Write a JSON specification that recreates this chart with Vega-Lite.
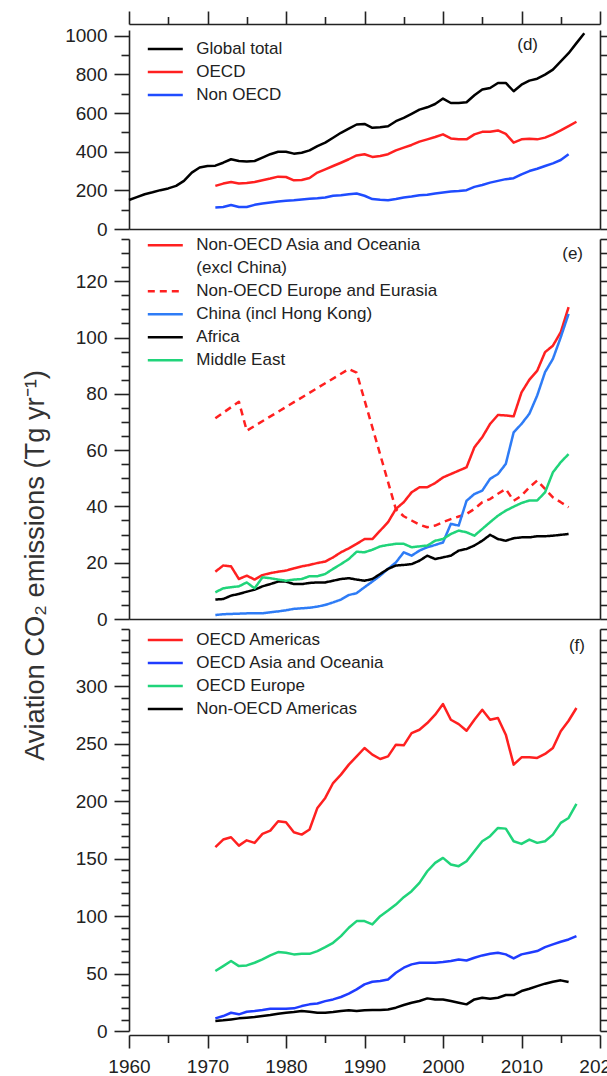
{
"$schema": "https://vega.github.io/schema/vega-lite/v6.json",
"padding": {"left": 21, "top": 10, "right": 0, "bottom": 0},
"autosize": {"type": "pad"},
"background": "white",
"spacing": 10,
"bounds": "flush",
"resolve": {"scale": {"color": "independent", "strokeDash": "independent", "y": "independent"}, "legend": {"color": "independent", "strokeDash": "independent"}},
"config": {
  "font": "Liberation Sans",
  "view": {"stroke": null},
  "axis": {"grid": false, "labelFont": "Liberation Sans", "titleFont": "Liberation Sans", "domainColor": "#222222", "tickColor": "#222222", "labelColor": "#222222", "titleColor": "#333333", "domainWidth": 1.6, "tickWidth": 1.6, "labelFontSize": 19, "format": "d", "labelFlush": false, "labelOverlap": false},
  "legend": {"orient": "none", "symbolType": "stroke", "symbolSize": 1225, "symbolStrokeWidth": 2.5, "labelFontSize": 17, "labelFont": "Liberation Sans", "labelColor": "#222222", "labelOffset": 12, "rowPadding": 0, "clipHeight": 22.5, "padding": 0, "title": null, "labelLimit": 400},
  "title": {"font": "Liberation Sans", "fontSize": 17, "fontWeight": "normal", "color": "#222222", "anchor": "end", "frame": "group", "orient": "top", "baseline": "alphabetic"}
},
"datasets": {
"d": [
{"series":"Global total","year":1960,"value":150},{"series":"Global total","year":1961,"value":165},{"series":"Global total","year":1962,"value":180},{"series":"Global total","year":1963,"value":190},{"series":"Global total","year":1964,"value":201},{"series":"Global total","year":1965,"value":210},{"series":"Global total","year":1966,"value":223},{"series":"Global total","year":1967,"value":249},{"series":"Global total","year":1968,"value":292},{"series":"Global total","year":1969,"value":318},{"series":"Global total","year":1970,"value":326},{"series":"Global total","year":1971,"value":328},{"series":"Global total","year":1972,"value":343},{"series":"Global total","year":1973,"value":361},{"series":"Global total","year":1974,"value":352},{"series":"Global total","year":1975,"value":350},{"series":"Global total","year":1976,"value":352},{"series":"Global total","year":1977,"value":369},{"series":"Global total","year":1978,"value":387},{"series":"Global total","year":1979,"value":400},{"series":"Global total","year":1980,"value":400},{"series":"Global total","year":1981,"value":390},{"series":"Global total","year":1982,"value":395},{"series":"Global total","year":1983,"value":407},{"series":"Global total","year":1984,"value":429},{"series":"Global total","year":1985,"value":447},{"series":"Global total","year":1986,"value":472},{"series":"Global total","year":1987,"value":498},{"series":"Global total","year":1988,"value":519},{"series":"Global total","year":1989,"value":541},{"series":"Global total","year":1990,"value":544},{"series":"Global total","year":1991,"value":524},{"series":"Global total","year":1992,"value":527},{"series":"Global total","year":1993,"value":532},{"series":"Global total","year":1994,"value":558},{"series":"Global total","year":1995,"value":575},{"series":"Global total","year":1996,"value":596},{"series":"Global total","year":1997,"value":618},{"series":"Global total","year":1998,"value":630},{"series":"Global total","year":1999,"value":647},{"series":"Global total","year":2000,"value":675},{"series":"Global total","year":2001,"value":652},{"series":"Global total","year":2002,"value":652},{"series":"Global total","year":2003,"value":656},{"series":"Global total","year":2004,"value":692},{"series":"Global total","year":2005,"value":722},{"series":"Global total","year":2006,"value":730},{"series":"Global total","year":2007,"value":756},{"series":"Global total","year":2008,"value":756},{"series":"Global total","year":2009,"value":713},{"series":"Global total","year":2010,"value":747},{"series":"Global total","year":2011,"value":768},{"series":"Global total","year":2012,"value":778},{"series":"Global total","year":2013,"value":799},{"series":"Global total","year":2014,"value":825},{"series":"Global total","year":2015,"value":867},{"series":"Global total","year":2016,"value":910},{"series":"Global total","year":2017,"value":962},{"series":"Global total","year":2018,"value":1013},
{"series":"OECD","year":1971,"value":223},{"series":"OECD","year":1972,"value":235},{"series":"OECD","year":1973,"value":243},{"series":"OECD","year":1974,"value":235},{"series":"OECD","year":1975,"value":238},{"series":"OECD","year":1976,"value":243},{"series":"OECD","year":1977,"value":252},{"series":"OECD","year":1978,"value":261},{"series":"OECD","year":1979,"value":271},{"series":"OECD","year":1980,"value":269},{"series":"OECD","year":1981,"value":252},{"series":"OECD","year":1982,"value":254},{"series":"OECD","year":1983,"value":264},{"series":"OECD","year":1984,"value":292},{"series":"OECD","year":1985,"value":309},{"series":"OECD","year":1986,"value":326},{"series":"OECD","year":1987,"value":343},{"series":"OECD","year":1988,"value":361},{"series":"OECD","year":1989,"value":381},{"series":"OECD","year":1990,"value":387},{"series":"OECD","year":1991,"value":373},{"series":"OECD","year":1992,"value":378},{"series":"OECD","year":1993,"value":387},{"series":"OECD","year":1994,"value":407},{"series":"OECD","year":1995,"value":421},{"series":"OECD","year":1996,"value":435},{"series":"OECD","year":1997,"value":452},{"series":"OECD","year":1998,"value":464},{"series":"OECD","year":1999,"value":476},{"series":"OECD","year":2000,"value":490},{"series":"OECD","year":2001,"value":469},{"series":"OECD","year":2002,"value":464},{"series":"OECD","year":2003,"value":464},{"series":"OECD","year":2004,"value":490},{"series":"OECD","year":2005,"value":503},{"series":"OECD","year":2006,"value":503},{"series":"OECD","year":2007,"value":510},{"series":"OECD","year":2008,"value":492},{"series":"OECD","year":2009,"value":447},{"series":"OECD","year":2010,"value":464},{"series":"OECD","year":2011,"value":467},{"series":"OECD","year":2012,"value":464},{"series":"OECD","year":2013,"value":473},{"series":"OECD","year":2014,"value":490},{"series":"OECD","year":2015,"value":510},{"series":"OECD","year":2016,"value":532},{"series":"OECD","year":2017,"value":555},
{"series":"Non OECD","year":1971,"value":111},{"series":"Non OECD","year":1972,"value":114},{"series":"Non OECD","year":1973,"value":124},{"series":"Non OECD","year":1974,"value":114},{"series":"Non OECD","year":1975,"value":114},{"series":"Non OECD","year":1976,"value":125},{"series":"Non OECD","year":1977,"value":132},{"series":"Non OECD","year":1978,"value":137},{"series":"Non OECD","year":1979,"value":142},{"series":"Non OECD","year":1980,"value":146},{"series":"Non OECD","year":1981,"value":149},{"series":"Non OECD","year":1982,"value":153},{"series":"Non OECD","year":1983,"value":156},{"series":"Non OECD","year":1984,"value":159},{"series":"Non OECD","year":1985,"value":163},{"series":"Non OECD","year":1986,"value":172},{"series":"Non OECD","year":1987,"value":175},{"series":"Non OECD","year":1988,"value":180},{"series":"Non OECD","year":1989,"value":184},{"series":"Non OECD","year":1990,"value":172},{"series":"Non OECD","year":1991,"value":155},{"series":"Non OECD","year":1992,"value":151},{"series":"Non OECD","year":1993,"value":149},{"series":"Non OECD","year":1994,"value":155},{"series":"Non OECD","year":1995,"value":163},{"series":"Non OECD","year":1996,"value":168},{"series":"Non OECD","year":1997,"value":175},{"series":"Non OECD","year":1998,"value":177},{"series":"Non OECD","year":1999,"value":184},{"series":"Non OECD","year":2000,"value":189},{"series":"Non OECD","year":2001,"value":194},{"series":"Non OECD","year":2002,"value":197},{"series":"Non OECD","year":2003,"value":201},{"series":"Non OECD","year":2004,"value":218},{"series":"Non OECD","year":2005,"value":228},{"series":"Non OECD","year":2006,"value":240},{"series":"Non OECD","year":2007,"value":249},{"series":"Non OECD","year":2008,"value":258},{"series":"Non OECD","year":2009,"value":263},{"series":"Non OECD","year":2010,"value":283},{"series":"Non OECD","year":2011,"value":300},{"series":"Non OECD","year":2012,"value":312},{"series":"Non OECD","year":2013,"value":326},{"series":"Non OECD","year":2014,"value":340},{"series":"Non OECD","year":2015,"value":357},{"series":"Non OECD","year":2016,"value":387}
],
"e": [
{"series":"Non-OECD Asia and Oceania","year":1971,"value":16.8},{"series":"Non-OECD Asia and Oceania","year":1972,"value":19},{"series":"Non-OECD Asia and Oceania","year":1973,"value":18.7},{"series":"Non-OECD Asia and Oceania","year":1974,"value":14.2},{"series":"Non-OECD Asia and Oceania","year":1975,"value":15.4},{"series":"Non-OECD Asia and Oceania","year":1976,"value":14},{"series":"Non-OECD Asia and Oceania","year":1977,"value":15.6},{"series":"Non-OECD Asia and Oceania","year":1978,"value":16.3},{"series":"Non-OECD Asia and Oceania","year":1979,"value":16.8},{"series":"Non-OECD Asia and Oceania","year":1980,"value":17.2},{"series":"Non-OECD Asia and Oceania","year":1981,"value":18},{"series":"Non-OECD Asia and Oceania","year":1982,"value":18.7},{"series":"Non-OECD Asia and Oceania","year":1983,"value":19.2},{"series":"Non-OECD Asia and Oceania","year":1984,"value":19.9},{"series":"Non-OECD Asia and Oceania","year":1985,"value":20.4},{"series":"Non-OECD Asia and Oceania","year":1986,"value":21.9},{"series":"Non-OECD Asia and Oceania","year":1987,"value":23.7},{"series":"Non-OECD Asia and Oceania","year":1988,"value":25.1},{"series":"Non-OECD Asia and Oceania","year":1989,"value":26.7},{"series":"Non-OECD Asia and Oceania","year":1990,"value":28.4},{"series":"Non-OECD Asia and Oceania","year":1991,"value":28.4},{"series":"Non-OECD Asia and Oceania","year":1992,"value":31.4},{"series":"Non-OECD Asia and Oceania","year":1993,"value":34.4},{"series":"Non-OECD Asia and Oceania","year":1994,"value":39.1},{"series":"Non-OECD Asia and Oceania","year":1995,"value":41.5},{"series":"Non-OECD Asia and Oceania","year":1996,"value":45},{"series":"Non-OECD Asia and Oceania","year":1997,"value":46.8},{"series":"Non-OECD Asia and Oceania","year":1998,"value":46.8},{"series":"Non-OECD Asia and Oceania","year":1999,"value":48.3},{"series":"Non-OECD Asia and Oceania","year":2000,"value":50.3},{"series":"Non-OECD Asia and Oceania","year":2001,"value":51.5},{"series":"Non-OECD Asia and Oceania","year":2002,"value":52.7},{"series":"Non-OECD Asia and Oceania","year":2003,"value":53.9},{"series":"Non-OECD Asia and Oceania","year":2004,"value":61},{"series":"Non-OECD Asia and Oceania","year":2005,"value":64.6},{"series":"Non-OECD Asia and Oceania","year":2006,"value":69.3},{"series":"Non-OECD Asia and Oceania","year":2007,"value":72.5},{"series":"Non-OECD Asia and Oceania","year":2008,"value":72.3},{"series":"Non-OECD Asia and Oceania","year":2009,"value":72},{"series":"Non-OECD Asia and Oceania","year":2010,"value":80.5},{"series":"Non-OECD Asia and Oceania","year":2011,"value":85},{"series":"Non-OECD Asia and Oceania","year":2012,"value":88.2},{"series":"Non-OECD Asia and Oceania","year":2013,"value":94.8},{"series":"Non-OECD Asia and Oceania","year":2014,"value":97.1},{"series":"Non-OECD Asia and Oceania","year":2015,"value":101.9},{"series":"Non-OECD Asia and Oceania","year":2016,"value":110.8},
{"series":"Non-OECD Europe and Eurasia","year":1971,"value":71.3},{"series":"Non-OECD Europe and Eurasia","year":1974,"value":77.2},{"series":"Non-OECD Europe and Eurasia","year":1975,"value":66.9},{"series":"Non-OECD Europe and Eurasia","year":1988,"value":88.8},{"series":"Non-OECD Europe and Eurasia","year":1989,"value":87.5},{"series":"Non-OECD Europe and Eurasia","year":1994,"value":39},{"series":"Non-OECD Europe and Eurasia","year":1995,"value":36.5},{"series":"Non-OECD Europe and Eurasia","year":1996,"value":35},{"series":"Non-OECD Europe and Eurasia","year":1997,"value":33.5},{"series":"Non-OECD Europe and Eurasia","year":1998,"value":32.6},{"series":"Non-OECD Europe and Eurasia","year":1999,"value":33.2},{"series":"Non-OECD Europe and Eurasia","year":2000,"value":34.4},{"series":"Non-OECD Europe and Eurasia","year":2001,"value":35.5},{"series":"Non-OECD Europe and Eurasia","year":2002,"value":36.4},{"series":"Non-OECD Europe and Eurasia","year":2003,"value":37.3},{"series":"Non-OECD Europe and Eurasia","year":2004,"value":39.1},{"series":"Non-OECD Europe and Eurasia","year":2005,"value":41.5},{"series":"Non-OECD Europe and Eurasia","year":2006,"value":42.6},{"series":"Non-OECD Europe and Eurasia","year":2007,"value":44.5},{"series":"Non-OECD Europe and Eurasia","year":2008,"value":46.2},{"series":"Non-OECD Europe and Eurasia","year":2009,"value":42},{"series":"Non-OECD Europe and Eurasia","year":2010,"value":43.8},{"series":"Non-OECD Europe and Eurasia","year":2011,"value":46.8},{"series":"Non-OECD Europe and Eurasia","year":2012,"value":49.2},{"series":"Non-OECD Europe and Eurasia","year":2013,"value":46.2},{"series":"Non-OECD Europe and Eurasia","year":2014,"value":43.2},{"series":"Non-OECD Europe and Eurasia","year":2015,"value":41.5},{"series":"Non-OECD Europe and Eurasia","year":2016,"value":39.7},
{"series":"China (incl Hong Kong)","year":1971,"value":1.4},{"series":"China (incl Hong Kong)","year":1972,"value":1.7},{"series":"China (incl Hong Kong)","year":1973,"value":1.8},{"series":"China (incl Hong Kong)","year":1974,"value":1.9},{"series":"China (incl Hong Kong)","year":1975,"value":2},{"series":"China (incl Hong Kong)","year":1976,"value":2},{"series":"China (incl Hong Kong)","year":1977,"value":2},{"series":"China (incl Hong Kong)","year":1978,"value":2.4},{"series":"China (incl Hong Kong)","year":1979,"value":2.7},{"series":"China (incl Hong Kong)","year":1980,"value":3.1},{"series":"China (incl Hong Kong)","year":1981,"value":3.6},{"series":"China (incl Hong Kong)","year":1982,"value":3.8},{"series":"China (incl Hong Kong)","year":1983,"value":4},{"series":"China (incl Hong Kong)","year":1984,"value":4.4},{"series":"China (incl Hong Kong)","year":1985,"value":5},{"series":"China (incl Hong Kong)","year":1986,"value":5.9},{"series":"China (incl Hong Kong)","year":1987,"value":6.9},{"series":"China (incl Hong Kong)","year":1988,"value":8.5},{"series":"China (incl Hong Kong)","year":1989,"value":9.2},{"series":"China (incl Hong Kong)","year":1990,"value":11.3},{"series":"China (incl Hong Kong)","year":1991,"value":13.3},{"series":"China (incl Hong Kong)","year":1992,"value":15.4},{"series":"China (incl Hong Kong)","year":1993,"value":17.8},{"series":"China (incl Hong Kong)","year":1994,"value":20.1},{"series":"China (incl Hong Kong)","year":1995,"value":23.7},{"series":"China (incl Hong Kong)","year":1996,"value":22.5},{"series":"China (incl Hong Kong)","year":1997,"value":24.3},{"series":"China (incl Hong Kong)","year":1998,"value":25.5},{"series":"China (incl Hong Kong)","year":1999,"value":26.3},{"series":"China (incl Hong Kong)","year":2000,"value":27.2},{"series":"China (incl Hong Kong)","year":2001,"value":33.8},{"series":"China (incl Hong Kong)","year":2002,"value":33.2},{"series":"China (incl Hong Kong)","year":2003,"value":42},{"series":"China (incl Hong Kong)","year":2004,"value":44.4},{"series":"China (incl Hong Kong)","year":2005,"value":45.6},{"series":"China (incl Hong Kong)","year":2006,"value":49.8},{"series":"China (incl Hong Kong)","year":2007,"value":51.5},{"series":"China (incl Hong Kong)","year":2008,"value":55.1},{"series":"China (incl Hong Kong)","year":2009,"value":66.3},{"series":"China (incl Hong Kong)","year":2010,"value":69.3},{"series":"China (incl Hong Kong)","year":2011,"value":72.9},{"series":"China (incl Hong Kong)","year":2012,"value":79.4},{"series":"China (incl Hong Kong)","year":2013,"value":87.7},{"series":"China (incl Hong Kong)","year":2014,"value":92.4},{"series":"China (incl Hong Kong)","year":2015,"value":100.1},{"series":"China (incl Hong Kong)","year":2016,"value":108.4},
{"series":"Africa","year":1971,"value":6.9},{"series":"Africa","year":1972,"value":7.1},{"series":"Africa","year":1973,"value":8.3},{"series":"Africa","year":1974,"value":8.9},{"series":"Africa","year":1975,"value":9.7},{"series":"Africa","year":1976,"value":10.4},{"series":"Africa","year":1977,"value":11.6},{"series":"Africa","year":1978,"value":12.4},{"series":"Africa","year":1979,"value":13.3},{"series":"Africa","year":1980,"value":13.3},{"series":"Africa","year":1981,"value":12.4},{"series":"Africa","year":1982,"value":12.4},{"series":"Africa","year":1983,"value":12.8},{"series":"Africa","year":1984,"value":13},{"series":"Africa","year":1985,"value":13},{"series":"Africa","year":1986,"value":13.6},{"series":"Africa","year":1987,"value":14.2},{"series":"Africa","year":1988,"value":14.5},{"series":"Africa","year":1989,"value":14},{"series":"Africa","year":1990,"value":13.6},{"series":"Africa","year":1991,"value":14.2},{"series":"Africa","year":1992,"value":16},{"series":"Africa","year":1993,"value":17.8},{"series":"Africa","year":1994,"value":19},{"series":"Africa","year":1995,"value":19.2},{"series":"Africa","year":1996,"value":19.5},{"series":"Africa","year":1997,"value":20.7},{"series":"Africa","year":1998,"value":22.5},{"series":"Africa","year":1999,"value":21.3},{"series":"Africa","year":2000,"value":21.9},{"series":"Africa","year":2001,"value":22.5},{"series":"Africa","year":2002,"value":24.3},{"series":"Africa","year":2003,"value":24.9},{"series":"Africa","year":2004,"value":26.1},{"series":"Africa","year":2005,"value":27.8},{"series":"Africa","year":2006,"value":29.9},{"series":"Africa","year":2007,"value":28.4},{"series":"Africa","year":2008,"value":27.8},{"series":"Africa","year":2009,"value":28.7},{"series":"Africa","year":2010,"value":29},{"series":"Africa","year":2011,"value":29},{"series":"Africa","year":2012,"value":29.4},{"series":"Africa","year":2013,"value":29.4},{"series":"Africa","year":2014,"value":29.6},{"series":"Africa","year":2015,"value":29.9},{"series":"Africa","year":2016,"value":30.2},
{"series":"Middle East","year":1971,"value":9.5},{"series":"Middle East","year":1972,"value":10.9},{"series":"Middle East","year":1973,"value":11.3},{"series":"Middle East","year":1974,"value":11.6},{"series":"Middle East","year":1975,"value":13},{"series":"Middle East","year":1976,"value":10.9},{"series":"Middle East","year":1977,"value":14.8},{"series":"Middle East","year":1978,"value":14.5},{"series":"Middle East","year":1979,"value":14},{"series":"Middle East","year":1980,"value":13.6},{"series":"Middle East","year":1981,"value":14},{"series":"Middle East","year":1982,"value":14.2},{"series":"Middle East","year":1983,"value":15.2},{"series":"Middle East","year":1984,"value":15.2},{"series":"Middle East","year":1985,"value":16},{"series":"Middle East","year":1986,"value":17.8},{"series":"Middle East","year":1987,"value":19.5},{"series":"Middle East","year":1988,"value":21.3},{"series":"Middle East","year":1989,"value":23.9},{"series":"Middle East","year":1990,"value":23.7},{"series":"Middle East","year":1991,"value":24.6},{"series":"Middle East","year":1992,"value":25.8},{"series":"Middle East","year":1993,"value":26.3},{"series":"Middle East","year":1994,"value":26.7},{"series":"Middle East","year":1995,"value":26.7},{"series":"Middle East","year":1996,"value":25.5},{"series":"Middle East","year":1997,"value":25.8},{"series":"Middle East","year":1998,"value":26.1},{"series":"Middle East","year":1999,"value":27.8},{"series":"Middle East","year":2000,"value":28.4},{"series":"Middle East","year":2001,"value":30.2},{"series":"Middle East","year":2002,"value":31.4},{"series":"Middle East","year":2003,"value":30.8},{"series":"Middle East","year":2004,"value":29.6},{"series":"Middle East","year":2005,"value":32},{"series":"Middle East","year":2006,"value":34.4},{"series":"Middle East","year":2007,"value":36.7},{"series":"Middle East","year":2008,"value":38.5},{"series":"Middle East","year":2009,"value":39.9},{"series":"Middle East","year":2010,"value":41.2},{"series":"Middle East","year":2011,"value":42.1},{"series":"Middle East","year":2012,"value":42.1},{"series":"Middle East","year":2013,"value":45},{"series":"Middle East","year":2014,"value":52.1},{"series":"Middle East","year":2015,"value":55.7},{"series":"Middle East","year":2016,"value":58.6}
],
"f": [
{"series":"OECD Americas","year":1971,"value":160},{"series":"OECD Americas","year":1972,"value":166.7},{"series":"OECD Americas","year":1973,"value":168.7},{"series":"OECD Americas","year":1974,"value":161.4},{"series":"OECD Americas","year":1975,"value":166},{"series":"OECD Americas","year":1976,"value":163.8},{"series":"OECD Americas","year":1977,"value":171.6},{"series":"OECD Americas","year":1978,"value":174.5},{"series":"OECD Americas","year":1979,"value":182.6},{"series":"OECD Americas","year":1980,"value":181.7},{"series":"OECD Americas","year":1981,"value":173},{"series":"OECD Americas","year":1982,"value":171},{"series":"OECD Americas","year":1983,"value":175.4},{"series":"OECD Americas","year":1984,"value":194.2},{"series":"OECD Americas","year":1985,"value":202.9},{"series":"OECD Americas","year":1986,"value":215.9},{"series":"OECD Americas","year":1987,"value":223.2},{"series":"OECD Americas","year":1988,"value":231.9},{"series":"OECD Americas","year":1989,"value":239.1},{"series":"OECD Americas","year":1990,"value":246.4},{"series":"OECD Americas","year":1991,"value":240.6},{"series":"OECD Americas","year":1992,"value":236.8},{"series":"OECD Americas","year":1993,"value":239.1},{"series":"OECD Americas","year":1994,"value":249.3},{"series":"OECD Americas","year":1995,"value":248.7},{"series":"OECD Americas","year":1996,"value":259.4},{"series":"OECD Americas","year":1997,"value":262.3},{"series":"OECD Americas","year":1998,"value":268.1},{"series":"OECD Americas","year":1999,"value":275.4},{"series":"OECD Americas","year":2000,"value":284.6},{"series":"OECD Americas","year":2001,"value":271},{"series":"OECD Americas","year":2002,"value":267.2},{"series":"OECD Americas","year":2003,"value":261.4},{"series":"OECD Americas","year":2004,"value":271},{"series":"OECD Americas","year":2005,"value":279.7},{"series":"OECD Americas","year":2006,"value":271},{"series":"OECD Americas","year":2007,"value":272.5},{"series":"OECD Americas","year":2008,"value":258},{"series":"OECD Americas","year":2009,"value":231.9},{"series":"OECD Americas","year":2010,"value":238.3},{"series":"OECD Americas","year":2011,"value":238.3},{"series":"OECD Americas","year":2012,"value":237.7},{"series":"OECD Americas","year":2013,"value":241.2},{"series":"OECD Americas","year":2014,"value":246.4},{"series":"OECD Americas","year":2015,"value":260.9},{"series":"OECD Americas","year":2016,"value":270.1},{"series":"OECD Americas","year":2017,"value":281.2},
{"series":"OECD Asia and Oceania","year":1971,"value":11},{"series":"OECD Asia and Oceania","year":1972,"value":13},{"series":"OECD Asia and Oceania","year":1973,"value":15.9},{"series":"OECD Asia and Oceania","year":1974,"value":14.5},{"series":"OECD Asia and Oceania","year":1975,"value":16.8},{"series":"OECD Asia and Oceania","year":1976,"value":17.4},{"series":"OECD Asia and Oceania","year":1977,"value":18.3},{"series":"OECD Asia and Oceania","year":1978,"value":19.4},{"series":"OECD Asia and Oceania","year":1979,"value":19.4},{"series":"OECD Asia and Oceania","year":1980,"value":19.4},{"series":"OECD Asia and Oceania","year":1981,"value":19.7},{"series":"OECD Asia and Oceania","year":1982,"value":21.7},{"series":"OECD Asia and Oceania","year":1983,"value":23.2},{"series":"OECD Asia and Oceania","year":1984,"value":24},{"series":"OECD Asia and Oceania","year":1985,"value":26},{"series":"OECD Asia and Oceania","year":1986,"value":27.5},{"series":"OECD Asia and Oceania","year":1987,"value":29.6},{"series":"OECD Asia and Oceania","year":1988,"value":32.5},{"series":"OECD Asia and Oceania","year":1989,"value":36.2},{"series":"OECD Asia and Oceania","year":1990,"value":40.6},{"series":"OECD Asia and Oceania","year":1991,"value":42.9},{"series":"OECD Asia and Oceania","year":1992,"value":43.5},{"series":"OECD Asia and Oceania","year":1993,"value":44.9},{"series":"OECD Asia and Oceania","year":1994,"value":50.7},{"series":"OECD Asia and Oceania","year":1995,"value":55.1},{"series":"OECD Asia and Oceania","year":1996,"value":58},{"series":"OECD Asia and Oceania","year":1997,"value":59.4},{"series":"OECD Asia and Oceania","year":1998,"value":59.4},{"series":"OECD Asia and Oceania","year":1999,"value":59.4},{"series":"OECD Asia and Oceania","year":2000,"value":60},{"series":"OECD Asia and Oceania","year":2001,"value":60.9},{"series":"OECD Asia and Oceania","year":2002,"value":62.3},{"series":"OECD Asia and Oceania","year":2003,"value":61.4},{"series":"OECD Asia and Oceania","year":2004,"value":63.8},{"series":"OECD Asia and Oceania","year":2005,"value":65.8},{"series":"OECD Asia and Oceania","year":2006,"value":67.2},{"series":"OECD Asia and Oceania","year":2007,"value":68.1},{"series":"OECD Asia and Oceania","year":2008,"value":66.7},{"series":"OECD Asia and Oceania","year":2009,"value":63.2},{"series":"OECD Asia and Oceania","year":2010,"value":66.7},{"series":"OECD Asia and Oceania","year":2011,"value":68.1},{"series":"OECD Asia and Oceania","year":2012,"value":69.6},{"series":"OECD Asia and Oceania","year":2013,"value":73},{"series":"OECD Asia and Oceania","year":2014,"value":75.4},{"series":"OECD Asia and Oceania","year":2015,"value":77.7},{"series":"OECD Asia and Oceania","year":2016,"value":79.7},{"series":"OECD Asia and Oceania","year":2017,"value":82.6},
{"series":"OECD Europe","year":1971,"value":52.2},{"series":"OECD Europe","year":1972,"value":56.5},{"series":"OECD Europe","year":1973,"value":60.9},{"series":"OECD Europe","year":1974,"value":56.5},{"series":"OECD Europe","year":1975,"value":57.1},{"series":"OECD Europe","year":1976,"value":59.4},{"series":"OECD Europe","year":1977,"value":62.3},{"series":"OECD Europe","year":1978,"value":65.8},{"series":"OECD Europe","year":1979,"value":68.7},{"series":"OECD Europe","year":1980,"value":68.1},{"series":"OECD Europe","year":1981,"value":66.7},{"series":"OECD Europe","year":1982,"value":67.2},{"series":"OECD Europe","year":1983,"value":67.2},{"series":"OECD Europe","year":1984,"value":69.6},{"series":"OECD Europe","year":1985,"value":73},{"series":"OECD Europe","year":1986,"value":76.8},{"series":"OECD Europe","year":1987,"value":82.6},{"series":"OECD Europe","year":1988,"value":89.9},{"series":"OECD Europe","year":1989,"value":95.7},{"series":"OECD Europe","year":1990,"value":95.7},{"series":"OECD Europe","year":1991,"value":92.8},{"series":"OECD Europe","year":1992,"value":100},{"series":"OECD Europe","year":1993,"value":104.9},{"series":"OECD Europe","year":1994,"value":110.1},{"series":"OECD Europe","year":1995,"value":116.5},{"series":"OECD Europe","year":1996,"value":121.7},{"series":"OECD Europe","year":1997,"value":129},{"series":"OECD Europe","year":1998,"value":139.1},{"series":"OECD Europe","year":1999,"value":146.4},{"series":"OECD Europe","year":2000,"value":150.7},{"series":"OECD Europe","year":2001,"value":144.9},{"series":"OECD Europe","year":2002,"value":143.5},{"series":"OECD Europe","year":2003,"value":147.8},{"series":"OECD Europe","year":2004,"value":156.5},{"series":"OECD Europe","year":2005,"value":165.2},{"series":"OECD Europe","year":2006,"value":169.6},{"series":"OECD Europe","year":2007,"value":176.8},{"series":"OECD Europe","year":2008,"value":176.2},{"series":"OECD Europe","year":2009,"value":165.2},{"series":"OECD Europe","year":2010,"value":162.9},{"series":"OECD Europe","year":2011,"value":166.7},{"series":"OECD Europe","year":2012,"value":163.8},{"series":"OECD Europe","year":2013,"value":165.2},{"series":"OECD Europe","year":2014,"value":171},{"series":"OECD Europe","year":2015,"value":181.2},{"series":"OECD Europe","year":2016,"value":185.5},{"series":"OECD Europe","year":2017,"value":197.7},
{"series":"Non-OECD Americas","year":1971,"value":8.7},{"series":"Non-OECD Americas","year":1972,"value":9.3},{"series":"Non-OECD Americas","year":1973,"value":10.1},{"series":"Non-OECD Americas","year":1974,"value":11},{"series":"Non-OECD Americas","year":1975,"value":11.6},{"series":"Non-OECD Americas","year":1976,"value":12.2},{"series":"Non-OECD Americas","year":1977,"value":13},{"series":"Non-OECD Americas","year":1978,"value":13.9},{"series":"Non-OECD Americas","year":1979,"value":15.1},{"series":"Non-OECD Americas","year":1980,"value":15.9},{"series":"Non-OECD Americas","year":1981,"value":16.5},{"series":"Non-OECD Americas","year":1982,"value":17.4},{"series":"Non-OECD Americas","year":1983,"value":16.8},{"series":"Non-OECD Americas","year":1984,"value":15.9},{"series":"Non-OECD Americas","year":1985,"value":15.9},{"series":"Non-OECD Americas","year":1986,"value":16.5},{"series":"Non-OECD Americas","year":1987,"value":17.4},{"series":"Non-OECD Americas","year":1988,"value":18},{"series":"Non-OECD Americas","year":1989,"value":17.4},{"series":"Non-OECD Americas","year":1990,"value":18},{"series":"Non-OECD Americas","year":1991,"value":18.3},{"series":"Non-OECD Americas","year":1992,"value":18.3},{"series":"Non-OECD Americas","year":1993,"value":18.8},{"series":"Non-OECD Americas","year":1994,"value":20.3},{"series":"Non-OECD Americas","year":1995,"value":22.6},{"series":"Non-OECD Americas","year":1996,"value":24.6},{"series":"Non-OECD Americas","year":1997,"value":26.1},{"series":"Non-OECD Americas","year":1998,"value":28.4},{"series":"Non-OECD Americas","year":1999,"value":27.5},{"series":"Non-OECD Americas","year":2000,"value":27.5},{"series":"Non-OECD Americas","year":2001,"value":26.1},{"series":"Non-OECD Americas","year":2002,"value":24.6},{"series":"Non-OECD Americas","year":2003,"value":23.2},{"series":"Non-OECD Americas","year":2004,"value":27.5},{"series":"Non-OECD Americas","year":2005,"value":29},{"series":"Non-OECD Americas","year":2006,"value":28.1},{"series":"Non-OECD Americas","year":2007,"value":29},{"series":"Non-OECD Americas","year":2008,"value":31.3},{"series":"Non-OECD Americas","year":2009,"value":31.3},{"series":"Non-OECD Americas","year":2010,"value":34.8},{"series":"Non-OECD Americas","year":2011,"value":36.8},{"series":"Non-OECD Americas","year":2012,"value":39.1},{"series":"Non-OECD Americas","year":2013,"value":41.2},{"series":"Non-OECD Americas","year":2014,"value":42.9},{"series":"Non-OECD Americas","year":2015,"value":44.1},{"series":"Non-OECD Americas","year":2016,"value":42.6}
]
},
"vconcat": [
{
  "width": 471, "height": 199,
  "data": {"name": "d"},
  "title": {"text": "(d)", "offset": -44, "dx": -62},
  "layer": [
    {"mark": {"type": "line", "strokeWidth": 2.5, "strokeJoin": "round"},
     "encoding": {
       "x": {"field": "year", "type": "quantitative", "scale": {"domain": [1960, 2020], "nice": false, "zero": false}, "axis": {"orient": "bottom", "ticks": false, "labels": false, "title": null}},
       "y": {"field": "value", "type": "quantitative", "scale": {"domain": [0, 1030], "nice": false}, "axis": {"orient": "left", "values": [0, 200, 400, 600, 800, 1000], "tickSize": 15, "labelPadding": 7, "title": null}},
       "color": {"field": "series", "type": "nominal", "scale": {"domain": ["Global total", "OECD", "Non OECD"], "range": ["#000000", "#ff2020", "#1f4cff"]}, "legend": {"legendX": 17.3, "legendY": 7.75}}
     }},
    {"mark": {"type": "point", "opacity": 0},
     "encoding": {
       "x": {"field": "year", "type": "quantitative", "scale": {"domain": [1960, 2020], "nice": false, "zero": false}, "axis": {"orient": "top", "offset": 6, "values": [1960, 1970, 1980, 1990, 2000, 2010, 2020], "tickSize": 13, "labels": false, "title": null}},
       "y": {"field": "value", "type": "quantitative", "scale": {"domain": [0, 1030], "nice": false}, "axis": {"orient": "left", "values": [100, 300, 500, 700, 900], "tickSize": 8, "labels": false, "domain": false, "title": null}}
     }},
    {"mark": {"type": "point", "opacity": 0},
     "encoding": {
       "x": {"field": "year", "type": "quantitative", "scale": {"domain": [1960, 2020], "nice": false, "zero": false}, "axis": {"orient": "top", "offset": 6, "values": [1965, 1975, 1985, 1995, 2005, 2015], "tickSize": 7.5, "labels": false, "domain": false, "title": null}},
       "y": {"field": "value", "type": "quantitative", "scale": {"domain": [0, 1030], "nice": false}, "axis": {"orient": "right", "values": [0, 100, 200, 300, 400, 500, 600, 700, 800, 900, 1000], "tickSize": 15, "labels": false, "title": null}}
     }}
  ],
  "resolve": {"axis": {"x": "independent", "y": "independent"}}
},
{
  "width": 471, "height": 380,
  "data": {"name": "e"},
  "title": {"text": "(e)", "offset": -29, "dx": -17},
  "layer": [
    {"mark": {"type": "line", "strokeWidth": 2.5, "strokeJoin": "round"},
     "encoding": {
       "x": {"field": "year", "type": "quantitative", "scale": {"domain": [1960, 2020], "nice": false, "zero": false}, "axis": {"orient": "bottom", "ticks": false, "labels": false, "title": null}},
       "y": {"field": "value", "type": "quantitative", "scale": {"domain": [0, 135], "nice": false}, "axis": {"orient": "left", "values": [0, 20, 40, 60, 80, 100, 120], "tickSize": 15, "labelPadding": 7, "title": "Aviation CO₂ emissions (Tg yr⁻¹)", "titleFontSize": 27.3, "titleFontWeight": "normal", "titleX": -86, "titleY": 326, "titleAngle": 270, "titleBaseline": "alphabetic", "titleAlign": "center"}},
       "color": {"field": "series", "type": "nominal", "scale": {"domain": ["Non-OECD Asia and Oceania", "(excl China)", "Non-OECD Europe and Eurasia", "China (incl Hong Kong)", "Africa", "Middle East"], "range": ["#ff2020", "rgba(0,0,0,0)", "#ff2020", "#2e7cf6", "#000000", "#20d47a"]}, "legend": {"legendX": 17.3, "legendY": -4.9, "clipHeight": 22.4, "labelExpr": "datum.label == '(excl China)' ? '\u00a0\u00a0\u00a0\u00a0(excl China)' : datum.label"}},
       "strokeDash": {"field": "series", "type": "nominal", "scale": {"domain": ["Non-OECD Asia and Oceania", "(excl China)", "Non-OECD Europe and Eurasia", "China (incl Hong Kong)", "Africa", "Middle East"], "range": [[1, 0], [1, 0], [7, 5], [1, 0], [1, 0], [1, 0]]}, "legend": {"legendX": 17.3, "legendY": -4.9, "clipHeight": 22.4, "labelExpr": "datum.label == '(excl China)' ? '\u00a0\u00a0\u00a0\u00a0(excl China)' : datum.label"}}
     }},
    {"mark": {"type": "point", "opacity": 0},
     "encoding": {
       "x": {"field": "year", "type": "quantitative", "scale": {"domain": [1960, 2020], "nice": false, "zero": false}, "axis": null},
       "y": {"field": "value", "type": "quantitative", "scale": {"domain": [0, 135], "nice": false}, "axis": {"orient": "left", "values": [5, 10, 15, 25, 30, 35, 45, 50, 55, 65, 70, 75, 85, 90, 95, 105, 110, 115, 125, 130, 135], "tickSize": 8, "labels": false, "domain": false, "title": null}}
     }},
    {"mark": {"type": "point", "opacity": 0},
     "encoding": {
       "x": {"field": "year", "type": "quantitative", "scale": {"domain": [1960, 2020], "nice": false, "zero": false}, "axis": null},
       "y": {"field": "value", "type": "quantitative", "scale": {"domain": [0, 135], "nice": false}, "axis": {"orient": "right", "values": [0, 5, 10, 15, 20, 25, 30, 35, 40, 45, 50, 55, 60, 65, 70, 75, 80, 85, 90, 95, 100, 105, 110, 115, 120, 125, 130, 135], "tickSize": 15, "labels": false, "title": null}}
     }}
  ],
  "resolve": {"axis": {"x": "independent", "y": "independent"}}
},
{
  "width": 471, "height": 402,
  "data": {"name": "f"},
  "title": {"text": "(f)", "offset": -27, "dx": -15},
  "layer": [
    {"mark": {"type": "line", "strokeWidth": 2.5, "strokeJoin": "round"},
     "encoding": {
       "x": {"field": "year", "type": "quantitative", "scale": {"domain": [1960, 2020], "nice": false, "zero": false}, "axis": {"orient": "bottom", "offset": 4, "values": [1960, 1970, 1980, 1990, 2000, 2010, 2020], "tickSize": 13, "labelPadding": 9, "title": null}},
       "y": {"field": "value", "type": "quantitative", "scale": {"domain": [0, 350], "nice": false}, "axis": {"orient": "left", "values": [0, 50, 100, 150, 200, 250, 300], "tickSize": 15, "labelPadding": 7, "title": null}},
       "color": {"field": "series", "type": "nominal", "scale": {"domain": ["OECD Americas", "OECD Asia and Oceania", "OECD Europe", "Non-OECD Americas"], "range": ["#ff2020", "#1f3cff", "#20d47a", "#000000"]}, "legend": {"legendX": 17.3, "legendY": -0.3, "clipHeight": 22.7}}
     }},
    {"mark": {"type": "point", "opacity": 0},
     "encoding": {
       "x": {"field": "year", "type": "quantitative", "scale": {"domain": [1960, 2020], "nice": false, "zero": false}, "axis": {"orient": "bottom", "offset": 4, "values": [1965, 1975, 1985, 1995, 2005, 2015], "tickSize": 7.5, "labels": false, "domain": false, "title": null}},
       "y": {"field": "value", "type": "quantitative", "scale": {"domain": [0, 350], "nice": false}, "axis": {"orient": "left", "values": [10, 20, 30, 40, 60, 70, 80, 90, 110, 120, 130, 140, 160, 170, 180, 190, 210, 220, 230, 240, 260, 270, 280, 290, 310, 320, 330, 340, 350], "tickSize": 8, "labels": false, "domain": false, "title": null}}
     }},
    {"mark": {"type": "point", "opacity": 0},
     "encoding": {
       "x": {"field": "year", "type": "quantitative", "scale": {"domain": [1960, 2020], "nice": false, "zero": false}, "axis": null},
       "y": {"field": "value", "type": "quantitative", "scale": {"domain": [0, 350], "nice": false}, "axis": {"orient": "right", "values": [0, 10, 20, 30, 40, 50, 60, 70, 80, 90, 100, 110, 120, 130, 140, 150, 160, 170, 180, 190, 200, 210, 220, 230, 240, 250, 260, 270, 280, 290, 300, 310, 320, 330, 340, 350], "tickSize": 15, "labels": false, "title": null}}
     }}
  ],
  "resolve": {"axis": {"x": "independent", "y": "independent"}}
}
]
}
